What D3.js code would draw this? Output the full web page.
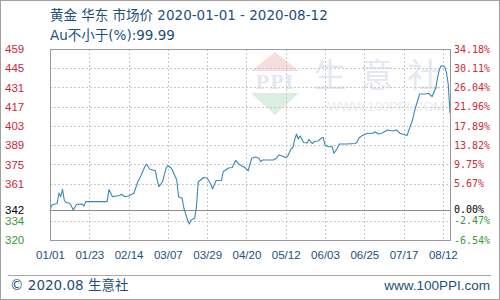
<!DOCTYPE html>
<html>
<head>
<meta charset="utf-8">
<script src="https://cdn.jsdelivr.net/npm/d3@7"></script>
<style>
  html, body { margin: 0; padding: 0; background: #fff; }
  svg { display: block; }
</style>
</head>
<body>
<div id="chart"></div>
<script>
// 黄金 华东 市场价 (元/克)
const dates = [
  "01-01","01-02","01-05","01-06","01-07","01-08","01-09","01-10","01-12","01-13",
  "01-14","01-16","01-19","01-20","01-21","02-02","02-03","02-05","02-09","02-10",
  "02-12","02-14","02-17","02-19","02-21","02-23","02-24","02-26","02-29","03-01",
  "03-02","03-04","03-06","03-07","03-09","03-12","03-13","03-15","03-16","03-18",
  "03-19","03-20","03-22","03-23","03-24","03-27","03-29","03-31","04-01","04-03",
  "04-06","04-07","04-09","04-10","04-12","04-14","04-16","04-19","04-21","04-22",
  "04-23","04-25","04-27","04-28","04-29","05-05","05-07","05-08","05-10","05-12",
  "05-13","05-15","05-16","05-17","05-18","05-19","05-20","05-22","05-24","05-25",
  "05-27","05-28","05-30","06-01","06-02","06-03","06-05","06-07","06-08","06-10",
  "06-11","06-15","06-20","06-21","06-22","06-24","06-25","06-27","06-30","07-01",
  "07-03","07-05","07-08","07-11","07-13","07-15","07-17","07-19","07-20","07-22",
  "07-23","07-26","07-29","07-31","08-02","08-04","08-05","08-06","08-07","08-09",
  "08-10","08-11","08-12"
];
const prices = [
  341.5,345.5,346.6,354.2,351.5,356.9,349.1,347.3,346.7,344.7,
  341.8,346.0,346.2,344.7,347.9,347.9,356.8,351.5,352.4,353.3,
  351.5,352.0,354.0,361.8,366.9,373.1,375.1,371.5,370.4,363.7,
  358.8,362.4,372.2,374.2,372.2,363.7,351.5,350.3,343.1,334.6,
  331.6,334.6,335.8,344.2,362.2,365.5,365.1,360.8,357.1,363.3,
  363.3,369.7,371.5,372.4,372.8,377.9,374.9,372.8,370.4,375.3,
  379.5,380.4,379.5,377.0,378.2,378.2,379.7,381.9,381.1,380.0,
  380.8,386.2,387.3,392.8,397.1,393.5,395.7,391.0,390.6,393.1,
  390.2,391.7,392.0,394.2,394.6,389.1,387.9,387.9,383.1,387.0,
  389.9,389.9,390.2,391.3,394.2,396.1,396.8,397.7,397.7,398.8,
  397.1,397.9,400.1,399.3,400.1,397.7,396.8,396.1,400.1,407.3,
  413.2,426.3,426.3,426.8,424.4,430.4,437.9,443.7,446.8,446.3,
  441.9,433.5,412.2
];

const yTicks = [459, 445, 431, 417, 403, 389, 375, 361, 334, 320];
const pctLabels = ["34.18%","30.11%","26.04%","21.96%","17.89%","13.82%","9.75%","5.67%","-2.47%","-6.54%"];
const baseValue = 342;
const baseLabel = "0.00%";
const xLabels = ["01/01","01/23","02/14","03/07","03/29","04/20","05/12","06/03","06/25","07/17","08/12"];
const xStep = 22; // 天

const W = 500, H = 300;
const plot = { left: 50, right: 450, top: 49, bottom: 240 };
const textBlue = "#1d4f7c";

const parse = d3.timeParse("%Y-%m-%d");
const data = dates.map((d, i) => ({ date: parse("2020-" + d), value: prices[i] }));
const start = parse("2020-01-01"), end = parse("2020-08-12");

const x = d3.scaleTime().domain([start, end]).range([plot.left, plot.right]);
const y = d3.scaleLinear().domain([320, 459]).range([plot.bottom, plot.top]);
const xTickDates = xLabels.map((_, i) => d3.timeDay.offset(start, i * xStep));

const svg = d3.select("#chart").append("svg")
  .attr("width", W).attr("height", H);

// 外框
svg.append("rect")
  .attr("x", 0.5).attr("y", 0.5).attr("width", W - 1).attr("height", H - 1)
  .attr("fill", "#fff").attr("stroke", "#a0a0a0");

// 水印
const wm = svg.append("g");
wm.append("path")
  .attr("d", "M275,52 L299,71 L251,71 Z").attr("fill", "#f7dede");
wm.append("text")
  .attr("x", 275).attr("y", 89).attr("text-anchor", "middle")
  .attr("font-family", "Liberation Serif, serif").attr("font-weight", "bold")
  .attr("font-size", 22).attr("fill", "#e3e8f0").attr("letter-spacing", 1)
  .text("PPI");
wm.append("path")
  .attr("d", "M251,93 L299,93 L275,115 Z").attr("fill", "#dbefe0");
wm.append("text")
  .attr("x", 384).attr("y", 87).attr("text-anchor", "middle")
  .attr("font-family", "Noto Sans CJK SC").attr("font-size", 33)
  .attr("letter-spacing", 14).attr("fill", "#e4e8ef")
  .text("生意社");
wm.append("text")
  .attr("x", 386).attr("y", 111).attr("text-anchor", "middle")
  .attr("font-family", "Liberation Sans, Arial").attr("font-size", 13)
  .attr("fill", "#e8ebf0")
  .text("WWW.100PPI.COM");

// 网格
const grid = svg.append("g")
  .attr("stroke", "#c8c8c8").attr("stroke-dasharray", "2,2").attr("fill", "none");
grid.selectAll("line.h")
  .data(yTicks.filter(v => v !== 459 && v !== 320))
  .join("line")
  .attr("x1", plot.left).attr("x2", plot.right)
  .attr("y1", d => Math.round(y(d)) + 0.5).attr("y2", d => Math.round(y(d)) + 0.5);
grid.selectAll("line.v")
  .data(xTickDates.slice(1))
  .join("line")
  .attr("x1", d => Math.round(x(d)) + 0.5).attr("x2", d => Math.round(x(d)) + 0.5)
  .attr("y1", plot.top).attr("y2", plot.bottom);

// 基准线
svg.append("line")
  .attr("x1", plot.left).attr("x2", plot.right)
  .attr("y1", Math.round(y(baseValue)) + 0.5).attr("y2", Math.round(y(baseValue)) + 0.5)
  .attr("stroke", "#8c8c8c");

// 价格线
const line = d3.line().x(d => x(d.date)).y(d => y(d.value));
svg.append("path")
  .datum(data)
  .attr("d", line)
  .attr("fill", "none")
  .attr("stroke", "#3a88b5")
  .attr("stroke-width", 1.1)
  .attr("stroke-linejoin", "round");

// 图框
svg.append("rect")
  .attr("x", plot.left + 0.5).attr("y", plot.top + 0.5)
  .attr("width", plot.right - plot.left).attr("height", plot.bottom - plot.top)
  .attr("fill", "none").attr("stroke", "#9a9a9a");

const colorOf = v => v > baseValue ? "#d0283a" : (v < baseValue ? "#3a9a3a" : "#000");

// 左轴
const leftAxis = svg.append("g").attr("font-family", "Liberation Sans, Arial").attr("font-size", 11.5);
leftAxis.selectAll("text")
  .data(yTicks.concat([baseValue]))
  .join("text")
  .attr("x", 5)
  .attr("y", d => y(d))
  .attr("dy", "0.36em")
  .attr("fill", colorOf)
  .text(d => d);

// 右轴
const rightAxis = svg.append("g").attr("font-family", "DejaVu Sans Mono, monospace").attr("font-size", 10);
rightAxis.selectAll("text")
  .data(yTicks.map((v, i) => ({ v, t: pctLabels[i] })).concat([{ v: baseValue, t: baseLabel }]))
  .join("text")
  .attr("x", 454)
  .attr("y", d => y(d.v))
  .attr("dy", "0.36em")
  .attr("fill", d => colorOf(d.v))
  .text(d => d.t);

// X轴
const xAxis = d3.axisBottom(x)
  .tickValues(xTickDates)
  .tickSize(0)
  .tickPadding(0)
  .tickFormat((d, i) => xLabels[i]);
const xg = svg.append("g")
  .attr("transform", `translate(0,${plot.bottom + 11})`)
  .call(xAxis);
xg.select(".domain").remove();
xg.selectAll("text")
  .attr("font-family", "Liberation Sans, Arial").attr("font-size", 11.5)
  .attr("fill", textBlue);

// 标题
svg.append("text")
  .attr("x", 50).attr("y", 20)
  .attr("font-family", "DejaVu Sans, Noto Sans CJK SC").attr("font-size", 13.5)
  .attr("fill", textBlue)
  .text("黄金 华东 市场价 2020-01-01 - 2020-08-12");
svg.append("text")
  .attr("x", 50).attr("y", 40)
  .attr("font-family", "DejaVu Sans, Noto Sans CJK SC").attr("font-size", 13.5)
  .attr("fill", textBlue)
  .text("Au不小于(%):99.99");

// 页脚
svg.append("line")
  .attr("x1", 8).attr("x2", 491).attr("y1", 275.5).attr("y2", 275.5)
  .attr("stroke", "#a8a8a8");
svg.append("text")
  .attr("x", 10).attr("y", 290)
  .attr("font-family", "DejaVu Sans, Noto Sans CJK SC").attr("font-size", 13.5)
  .attr("fill", textBlue)
  .text("© 2020.08 生意社");
svg.append("text")
  .attr("x", 490).attr("y", 290).attr("text-anchor", "end")
  .attr("font-family", "Liberation Sans, Arial").attr("font-size", 13.5)
  .attr("fill", textBlue)
  .text("www.100PPI.com");
</script>
</body>
</html>
